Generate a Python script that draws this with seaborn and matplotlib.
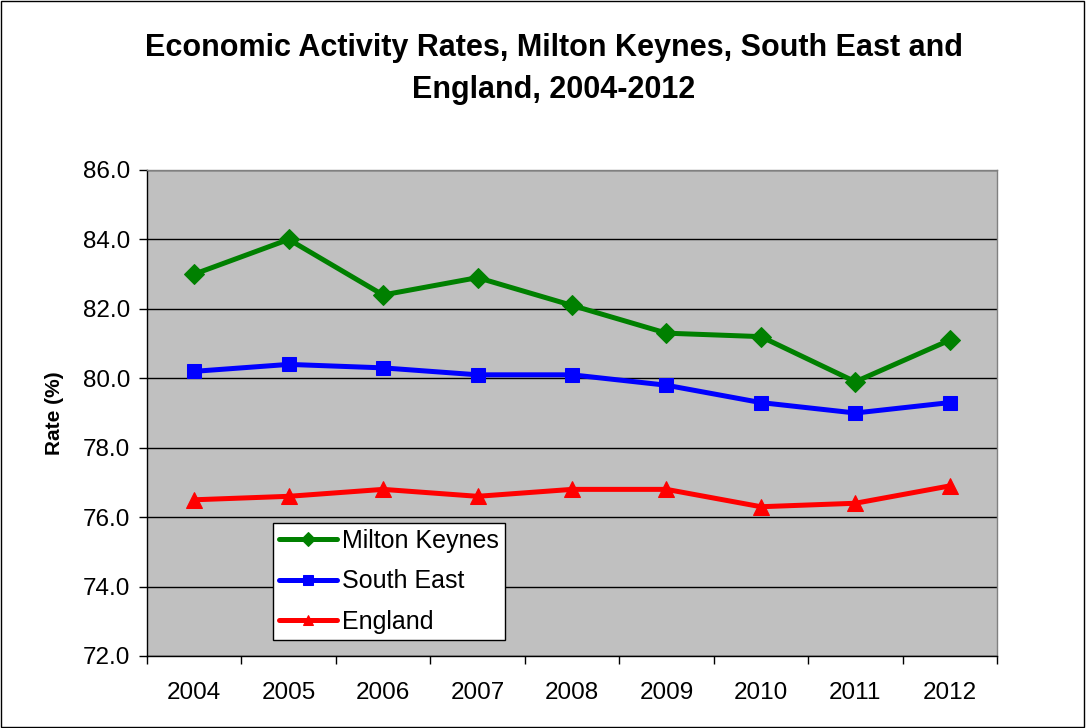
import matplotlib
matplotlib.use("Agg")
import matplotlib.pyplot as plt
from matplotlib.patches import Rectangle
from matplotlib.ticker import FixedLocator, NullFormatter
import numpy as np
import pandas as pd
import seaborn as sns

# Economic activity rates (%), 2004-2012
years = ["2004", "2005", "2006", "2007", "2008", "2009", "2010", "2011", "2012"]
milton_keynes = [83.0, 84.0, 82.4, 82.9, 82.1, 81.3, 81.2, 79.9, 81.1]
south_east = [80.2, 80.4, 80.3, 80.1, 80.1, 79.8, 79.3, 79.0, 79.3]
england = [76.5, 76.6, 76.8, 76.6, 76.8, 76.8, 76.3, 76.4, 76.9]

series_names = ["Milton Keynes", "South East", "England"]
series_colors = {"Milton Keynes": "#008000", "South East": "#0000FF", "England": "#FF0000"}
series_markers = {"Milton Keynes": "D", "South East": "s", "England": "^"}
series_msize = {"Milton Keynes": 10, "South East": 9.5, "England": 11}

idx = np.arange(len(years))
df = pd.DataFrame({
    "pos": np.tile(idx, 3),
    "year": years * 3,
    "rate": milton_keynes + south_east + england,
    "area": np.repeat(series_names, len(years)),
})

sns.set_theme(style="white")
plt.rcParams["font.family"] = ["Liberation Sans", "DejaVu Sans"]
plt.rcParams.update({"text.color": "black", "axes.labelcolor": "black",
                     "xtick.color": "black", "ytick.color": "black"})

fig = plt.figure(figsize=(10.86, 7.28), dpi=100)
ax = fig.add_axes([147 / 1086, 72 / 728, 850 / 1086, 486 / 728])
ax.set_facecolor("#C0C0C0")

for name in series_names:
    sub = df[df["area"] == name]
    sns.lineplot(data=sub, x="pos", y="rate", ax=ax, color=series_colors[name],
                 marker=series_markers[name], markersize=series_msize[name],
                 markeredgecolor=series_colors[name], linewidth=3.6, label=name,
                 sort=False)

ax.set_xlim(-0.5, len(years) - 0.5)
ax.set_ylim(72, 86)
ax.set_yticks(np.arange(72, 86.1, 2))
ax.set_yticklabels([f"{v:.1f}" for v in np.arange(72, 86.1, 2)], fontsize=17.5)
ax.yaxis.grid(True, color="black", linewidth=1)
ax.xaxis.grid(False)
ax.set_axisbelow(True)

# Year labels centred in each category, tick marks on category boundaries
ax.set_xticks(idx)
ax.set_xticklabels(years, fontsize=17.5)
ax.tick_params(axis="x", which="major", length=0, pad=19)
ax.xaxis.set_minor_locator(FixedLocator(np.arange(-0.5, len(years), 1.0)))
ax.xaxis.set_minor_formatter(NullFormatter())
ax.tick_params(axis="x", which="minor", length=6, width=1, color="black", direction="out", bottom=True)
ax.tick_params(axis="y", which="major", length=6, width=1, color="black", direction="out", left=True, pad=6)

ax.set_xlabel("")
ax.set_ylabel("Rate (%)", fontsize=15, fontweight="bold", labelpad=14)

for side in ["top", "right"]:
    ax.spines[side].set_color("#808080")
    ax.spines[side].set_linewidth(1)
for side in ["left", "bottom"]:
    ax.spines[side].set_color("black")
    ax.spines[side].set_linewidth(1)

leg = ax.legend(loc="lower left", bbox_to_anchor=((273 - 147) / 850, (656 - 640) / 486),
                fontsize=18, frameon=True, fancybox=False, edgecolor="black",
                framealpha=1, handlelength=2.3, handletextpad=0.2,
                borderpad=0.25, labelspacing=0.66, borderaxespad=0)
leg.get_frame().set_linewidth(1)
for h in leg.legend_handles:
    h.set_markersize(7)

fig.text(554 / 1086, 1 - 48 / 728, "Economic Activity Rates, Milton Keynes, South East and",
         ha="center", va="center", fontsize=22, fontweight="bold")
fig.text(554 / 1086, 1 - 90 / 728, "England, 2004-2012",
         ha="center", va="center", fontsize=22, fontweight="bold")

fig.patches.append(Rectangle((0.0005, 0.001), 0.9975, 0.997, transform=fig.transFigure,
                             fill=False, edgecolor="black", linewidth=1))

fig.savefig("out.png", dpi=100, facecolor="white")
